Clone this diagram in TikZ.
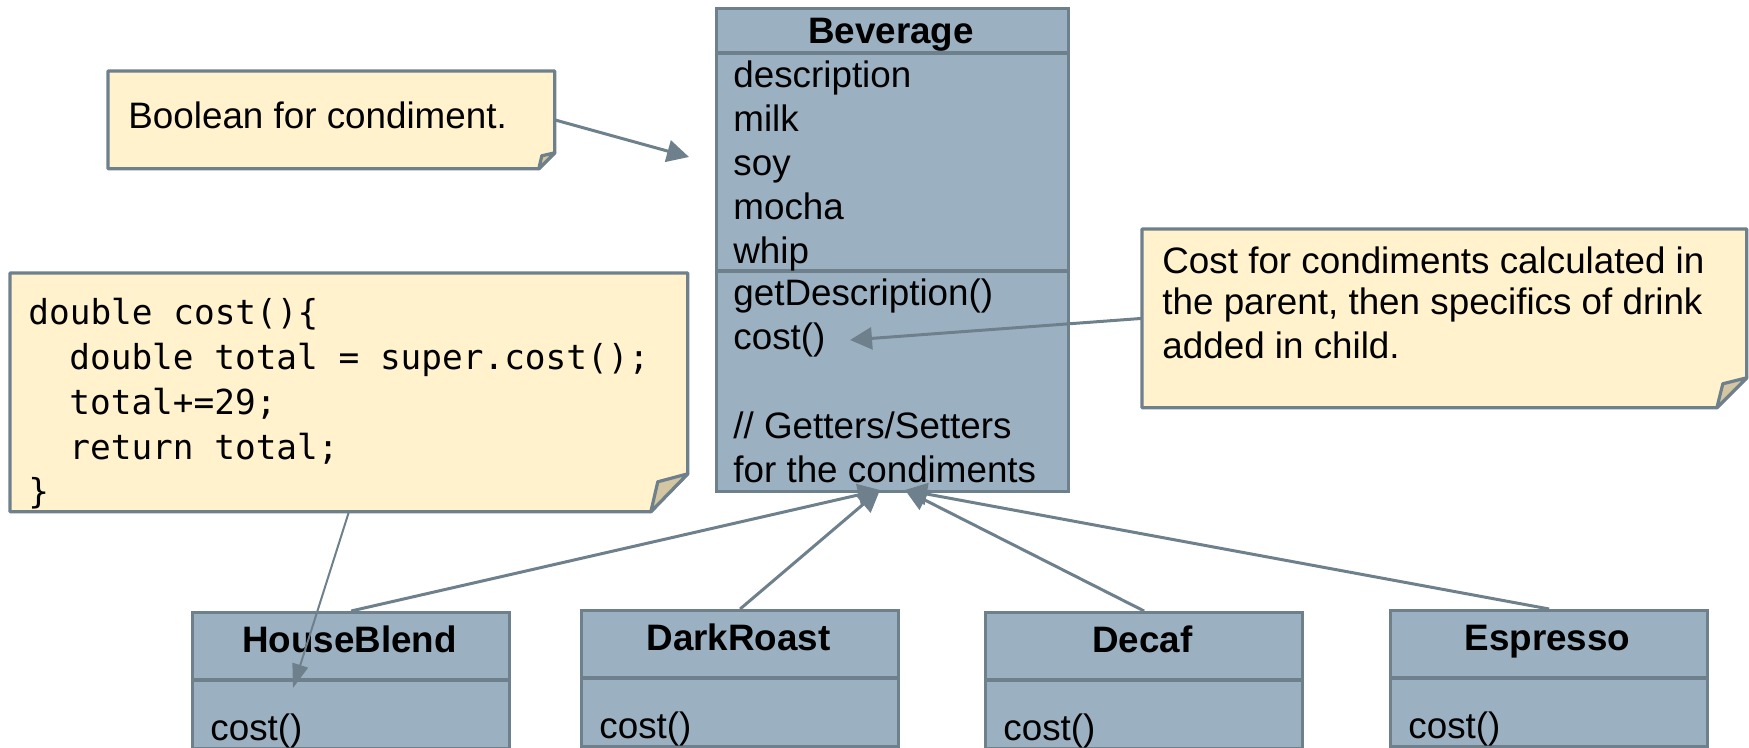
\documentclass[tikz,border=0pt]{standalone}
\usepackage{fontspec}
\setmainfont{Liberation Sans}
\setmonofont{DejaVu Sans Mono}
\usetikzlibrary{arrows.meta}
\definecolor{boxfill}{HTML}{9BB1C2}
\definecolor{boxline}{HTML}{6E808C}
\definecolor{notefill}{HTML}{FFF2CC}
\definecolor{foldfill}{HTML}{D3C6A1}

\begin{document}
\begin{tikzpicture}[x=0.5pt,y=-0.5pt,
    clsbox/.style={draw=boxline, fill=boxfill, line width=1.6pt, inner sep=0, anchor=north west},
    sepline/.style={draw=boxline, line width=1.6pt},
    noteshape/.style={draw=boxline, fill=notefill, line width=1.6pt, line join=round},
    notearea/.style={inner sep=0, anchor=north west},
    txt/.style={anchor=base west, inner sep=0, font=\fontsize{18.4}{22}\selectfont},
    clsname/.style={anchor=base, inner sep=0, font=\bfseries\fontsize{18.4}{22}\selectfont},
    code/.style={anchor=base west, inner sep=0, font=\ttfamily\fontsize{17.2}{20}\selectfont},
    conn/.style={draw=boxline, line width=1.5pt, -{Triangle[length=11pt,width=11pt]}},
    thinconn/.style={draw=boxline, line width=1pt, -{Triangle[length=12pt,width=8pt]}}]
    \useasboundingbox (0,0) rectangle (1749,748);

    % Beverage class
    \node[clsbox, minimum width=176pt, minimum height=241.5pt] (bev) at (715,7) {};
    \draw[sepline] (715,53) -- (1067,53);
    \draw[sepline] (715,271) -- (1067,271);
    \node[clsname] (bevname) at (891,44) {Beverage};
    \foreach \attr [count=\i] in {description,milk,soy,mocha,whip}
        \node[txt] (attr\i) at (733,{44+44*\i}) {\attr};
    \node[txt] (getdesc) at (733,306) {getDescription()};
    \node[txt] (costm) at (733,350) {cost()};
    \node[txt] (getset) at (733,438) {// Getters/Setters};
    \node[txt] (forcond) at (733,482) {for the condiments};

    % Note: boolean
    \node[notearea, minimum width=223pt, minimum height=48.5pt] (boolnote) at (108,71) {};
    \draw[noteshape] (boolnote.north west) -- (boolnote.north east) -- ([yshift=8pt]boolnote.south east)
        -- ([xshift=-8pt]boolnote.south east) -- (boolnote.south west) -- cycle;
    \draw[noteshape, fill=foldfill] ([yshift=8pt]boolnote.south east) -- ([xshift=-6.5pt,yshift=6.5pt]boolnote.south east)
        -- ([xshift=-8pt]boolnote.south east) -- cycle;
    \node[txt] (booltext) at (128,129) {Boolean for condiment.};

    % Note: code
    \node[notearea, minimum width=338.5pt, minimum height=119pt] (codenote) at (10,273) {};
    \draw[noteshape] (codenote.north west) -- (codenote.north east) -- ([yshift=19pt]codenote.south east)
        -- ([xshift=-18.5pt]codenote.south east) -- (codenote.south west) -- cycle;
    \draw[noteshape, fill=foldfill] ([yshift=19pt]codenote.south east) -- ([xshift=-15pt,yshift=15pt]codenote.south east)
        -- ([xshift=-18.5pt]codenote.south east) -- cycle;
    \node[code] (code1) at (28,325) {double cost()\{};
    \node[code] (code2) at (69,370) {double total = super.cost();};
    \node[code] (code3) at (69,415) {total+=29;};
    \node[code] (code4) at (69,459) {return total;};
    \node[code] (code5) at (28,503) {\}};

    % Note: cost
    \node[notearea, minimum width=302pt, minimum height=89pt] (costnote) at (1142,229) {};
    \draw[noteshape] (costnote.north west) -- (costnote.north east) -- ([yshift=15pt]costnote.south east)
        -- ([xshift=-15pt]costnote.south east) -- (costnote.south west) -- cycle;
    \draw[noteshape, fill=foldfill] ([yshift=15pt]costnote.south east) -- ([xshift=-12pt,yshift=12pt]costnote.south east)
        -- ([xshift=-15pt]costnote.south east) -- cycle;
    \node[txt] (costline1) at (1162,274) {Cost for condiments calculated in};
    \node[txt] (costline2) at (1162,315) {the parent, then specifics of drink};
    \node[txt] (costline3) at (1162,358) {added in child.};

    % Child classes
    \foreach \cls/\x/\y in {HouseBlend/191/611, DarkRoast/580/609, Decaf/984/611, Espresso/1389/609} {
        \node[clsbox, minimum width=158.5pt, minimum height=68pt] (\cls) at (\x,\y) {};
        \draw[sepline] (\x,{\y+69}) -- ({\x+317},{\y+69});
        \node[clsname] (\cls-name) at ({\x+158.5},{\y+41}) {\cls};
        \node[txt] (\cls-cost) at ({\x+19},{\y+129}) {cost()};
    }

    % Inheritance
    \coordinate (bevtipL) at (880,490);
    \coordinate (bevtipR) at (905,490);
    \draw[conn] (HouseBlend.north) -- (bevtipL);
    \draw[conn] (DarkRoast.north) -- (bevtipL);
    \draw[conn] (Decaf.north) -- (bevtipR);
    \draw[conn] (Espresso.north) -- (bevtipR);

    % Note connectors
    \coordinate (booltip) at (689,157);
    \draw[conn] (boolnote.east) -- (booltip);
    \coordinate (costtip) at (850,340);
    \draw[conn] (costnote.west) -- (costtip);
    \coordinate (housetip) at (293,688);
    \draw[thinconn] (codenote.south) -- (housetip);
\end{tikzpicture}
\end{document}
